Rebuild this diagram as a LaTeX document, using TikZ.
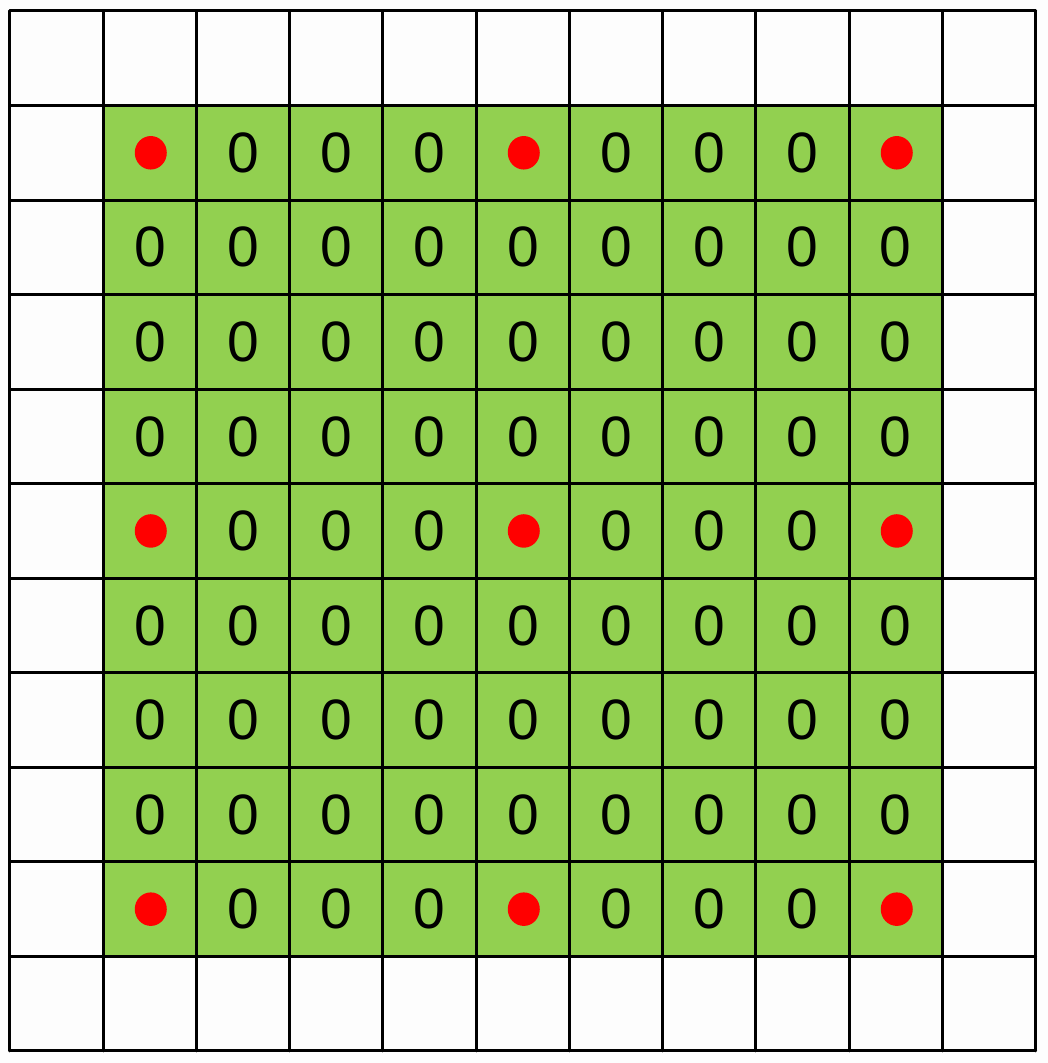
\documentclass[tikz,border=0pt]{standalone}
\usepackage{fontspec}
\setmainfont{Liberation Sans}
\definecolor{cellgreen}{RGB}{146,208,80}
\definecolor{dotred}{RGB}{255,0,0}
\definecolor{paper}{RGB}{253,253,253}
\begin{document}
\begin{tikzpicture}[x=1.864cm, y=1.89cm, line join=round, line cap=round]
	\tikzset{zero/.style={inner sep=0pt, font=\fontsize{32.4}{36}\selectfont}}
	\def\n{11} % number of cells per side
	\useasboundingbox[fill=paper] (-0.107,-0.127) rectangle (11.129,11.116);
	\coordinate (SW) at (1,1);
	\coordinate (NE) at (10,10);
	\fill[cellgreen] (SW) rectangle (NE);
	
	% cell contents: red dot every fourth cell, 0 elsewhere
	\foreach \i in {1,...,9}
	\foreach \j in {1,...,9}{
		\pgfmathtruncatemacro{\isdot}{(mod(\i-1,4)==0)&&(mod(\j-1,4)==0)}
		\ifnum\isdot=1
			\coordinate (d-\i-\j) at (\i+0.51,\j+0.5);
			\fill[dotred] (d-\i-\j) ellipse (0.32cm and 0.335cm);
		\else
			\node[zero] (z-\i-\j) at (\i+0.5,\j+0.5) {0};
		\fi
	}
	
	% grid lines
	\foreach \k in {0,...,\n}{
		\draw[line width=1.7pt] (\k,0)--(\k,\n);
		\draw[line width=1.7pt] (0,\k)--(\n,\k);
	}
\end{tikzpicture}
\end{document}
